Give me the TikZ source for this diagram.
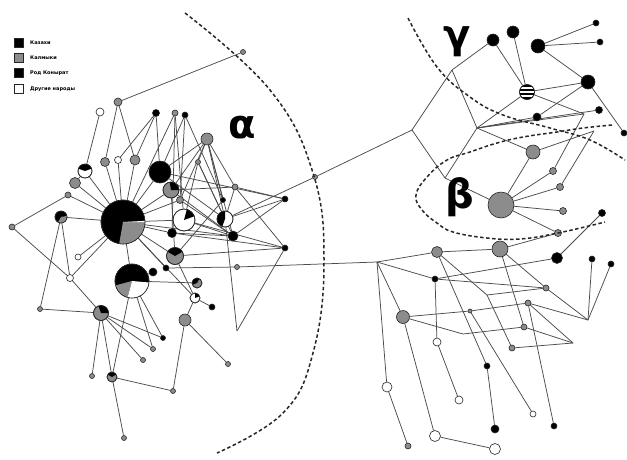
\documentclass[tikz,border=0pt]{standalone}
\usepackage{fontspec}
\setmainfont{DejaVu Sans}
\usetikzlibrary{backgrounds}

\tikzset{
  hap/.style={circle, draw=black!85, line width=0.6pt, inner sep=0pt},
  kaz/.style={hap, fill=black},
  kal/.style={hap, fill=black!45},
  oth/.style={hap, fill=white},
  link/.style={draw=black!70, line width=0.75pt},
  cladeline/.style={draw=black!85, line width=1.5pt, dash pattern=on 3.5pt off 2.5pt},
  greek/.style={font=\fontsize{40}{40}\selectfont\bfseries},
  keybox/.style={rectangle, draw=black!85, line width=0.6pt, minimum size=9pt, inner sep=0pt},
  keytext/.style={anchor=west, inner sep=0pt, font=\fontsize{5}{6}\selectfont\bfseries},
}

% pie pieces of a haplotype circle
\newcommand{\hapslice}[5]{\fill[#5] (#1.center) -- ++(#3:#2) arc[start angle=#3, end angle=#4, radius=#2] -- cycle;}
\newcommand{\hapring}[2]{\draw[black!85, line width=0.6pt] (#1.center) circle[radius=#2];}

\begin{document}
\begin{tikzpicture}[x=1pt, y=-1pt]
\useasboundingbox (0,0) rectangle (627,459);

% legend
\node[keybox, fill=black] (k1) at (19,43) {};
\node[keybox, fill=black!45] (k2) at (19,58) {};
\node[keybox, fill=black] (k3) at (19,73) {};
\node[keybox, fill=white] (k4) at (19,89) {};
\node[keytext] (t1) at (30,43) {Казахи};
\node[keytext] (t2) at (30,58) {Калмыки};
\node[keytext] (t3) at (30,73) {Род Конырат};
\node[keytext] (t4) at (30,89) {Другие народы};

% alpha cluster
\node[kaz, minimum size=44pt] (a0) at (123,222) {};
\node[kaz, minimum size=34pt] (a1) at (132,281) {};
\node[kaz, minimum size=8pt] (a2) at (153,272) {};
\node[oth, minimum size=14pt] (a3) at (85,171) {};
\node[kal, minimum size=11pt] (a4) at (75,183) {};
\node[kaz, minimum size=12pt] (a5) at (61,217) {};
\node[kaz, minimum size=22pt] (a6) at (160,172) {};
\node[kal, minimum size=16pt] (a7) at (171,190) {};
\node[oth, minimum size=22pt] (a8) at (184,220) {};
\node[oth, minimum size=16pt] (a9) at (225,219) {};
\node[kal, minimum size=17pt] (a10) at (175,256) {};
\node[kaz, minimum size=10pt] (a11) at (233,236) {};
\node[kaz, minimum size=9pt] (a12) at (172,233) {};
\node[kal, minimum size=15pt] (a13) at (101,313) {};
\node[kal, minimum size=10pt] (a14) at (112,377) {};
\node[kal, minimum size=10pt] (a15) at (197,283) {};
\node[oth, minimum size=10pt] (a16) at (195,298) {};
\node[kal, minimum size=12pt] (a17) at (185,320) {};
\node[kal, minimum size=12pt] (a18) at (207,139) {};
\node[kal, minimum size=8pt] (a19) at (118,102) {};
\node[oth, minimum size=8pt] (a20) at (100,112) {};
\node[kaz, minimum size=7pt] (a21) at (156,113) {};
\node[kal, minimum size=6pt] (a22) at (175,113) {};
\node[kaz, minimum size=6pt] (a23) at (185,115) {};
\node[kal, minimum size=9pt] (a24) at (105,162) {};
\node[oth, minimum size=7pt] (a25) at (118,160) {};
\node[kal, minimum size=10pt] (a26) at (135,160) {};
\node[kal, minimum size=6pt] (a27) at (68,195) {};
\node[kal, minimum size=6pt] (a28) at (12,227) {};
\node[oth, minimum size=6pt] (a29) at (78,257) {};
\node[oth, minimum size=7pt] (a30) at (70,278) {};
\node[kal, minimum size=7pt] (a31) at (180,200) {};
\node[kal, minimum size=5pt] (a32) at (198,162) {};
\node[kal, minimum size=6pt] (a33) at (235,187) {};
\node[kaz, minimum size=5pt] (a34) at (223,200) {};
\node[kaz, minimum size=6pt] (a35) at (285,199) {};
\node[kaz, minimum size=6pt] (a36) at (285,248) {};
\node[kaz, minimum size=6pt] (a37) at (166,268) {};
\node[kaz, minimum size=6pt] (a38) at (212,307) {};
\node[kaz, minimum size=5pt] (a39) at (163,338) {};
\node[kal, minimum size=5pt] (a40) at (153,349) {};
\node[kal, minimum size=5pt] (a41) at (143,360) {};
\node[kal, minimum size=5pt] (a42) at (228,364) {};
\node[kal, minimum size=5pt] (a43) at (92,376) {};
\node[kal, minimum size=5pt] (a44) at (173,391) {};
\node[kal, minimum size=5pt] (a45) at (124,438) {};
\node[kal, minimum size=5pt] (a46) at (40,309) {};
\node[kal, minimum size=5pt] (a47) at (243,52) {};
\node[kal, minimum size=5pt] (a48) at (315,177) {};
\node[kal, minimum size=5pt] (a49) at (237,267) {};
\coordinate (a50) at (237,331);

% mixed circles
\hapslice{a0}{22pt}{-100}{0}{black!45}
\hapslice{a0}{22pt}{0}{3}{white}
\hapring{a0}{22pt}
\hapslice{a1}{17pt}{195}{255}{black!45}
\hapslice{a1}{17pt}{255}{355}{white}
\hapring{a1}{17pt}
\hapslice{a3}{7pt}{20}{160}{black}
\hapring{a3}{7pt}
\hapslice{a5}{6pt}{-120}{10}{black!45}
\hapring{a5}{6pt}
\hapslice{a7}{8pt}{0}{100}{black}
\hapring{a7}{8pt}
\hapslice{a8}{11pt}{20}{75}{black}
\hapring{a8}{11pt}
\hapslice{a9}{8pt}{90}{250}{black}
\hapring{a9}{8pt}
\hapslice{a10}{8.5pt}{30}{150}{black}
\hapring{a10}{8.5pt}
\hapslice{a13}{7.5pt}{0}{110}{black}
\hapring{a13}{7.5pt}
\hapslice{a14}{5pt}{30}{150}{black}
\hapring{a14}{5pt}
\hapslice{a15}{5pt}{60}{200}{black}
\hapring{a15}{5pt}
\hapslice{a16}{5pt}{20}{90}{black}
\hapring{a16}{5pt}

% gamma and beta clusters
\coordinate (g1) at (412,130);
\coordinate (g2) at (452,70);
\coordinate (g3) at (477,128);
\coordinate (g4) at (445,178);
\node[kaz, minimum size=12pt] (g5) at (493,40) {};
\node[kaz, minimum size=12pt] (g6) at (513,32) {};
\node[kaz, minimum size=14pt] (g7) at (538,46) {};
\node[kaz, minimum size=6pt] (g8) at (596,23) {};
\node[kaz, minimum size=6pt] (g9) at (600,42) {};
\node[kaz, minimum size=14pt] (g10) at (588,82) {};
\node[oth, minimum size=15pt] (g11) at (527,92) {};
\node[kaz, minimum size=7pt] (g12) at (599,110) {};
\node[kaz, minimum size=8pt] (g13) at (537,117) {};
\node[kaz, minimum size=6pt] (g14) at (624,133) {};
\coordinate (g15) at (584,114);
\coordinate (g16) at (594,131);
\begin{scope}
  \clip (g11.center) circle[radius=7.5pt];
  \draw[line width=1.6pt] ([yshift=-6pt]g11.west) -- ([yshift=-6pt]g11.east)
    ([yshift=-2pt]g11.west) -- ([yshift=-2pt]g11.east)
    ([yshift=2pt]g11.west) -- ([yshift=2pt]g11.east)
    ([yshift=6pt]g11.west) -- ([yshift=6pt]g11.east);
\end{scope}
\hapring{g11}{7.5pt}

\node[kal, minimum size=26pt] (b0) at (501,205) {};
\node[kal, minimum size=14pt] (b1) at (533,152) {};
\node[kal, minimum size=7pt] (b2) at (553,171) {};
\node[kal, minimum size=7pt] (b3) at (560,187) {};
\node[kal, minimum size=7pt] (b4) at (563,211) {};
\node[kal, minimum size=7pt] (b5) at (558,233) {};
\node[kaz, minimum size=7pt] (b6) at (602,213) {};

% lower right mesh
\coordinate (m0) at (377,262);
\node[kal, minimum size=11pt] (m1) at (437,252) {};
\node[kal, minimum size=16pt] (m2) at (500,249) {};
\node[kaz, minimum size=11pt] (m3) at (557,258) {};
\node[kaz, minimum size=6pt] (m4) at (592,259) {};
\node[kaz, minimum size=6pt] (m5) at (611,264) {};
\node[kaz, minimum size=6pt] (m6) at (435,279) {};
\node[kal, minimum size=6pt] (m7) at (546,288) {};
\node[kal, minimum size=6pt] (m8) at (528,303) {};
\node[kal, minimum size=4pt] (m9) at (470,311) {};
\node[kal, minimum size=13pt] (m10) at (403,317) {};
\node[kal, minimum size=6pt] (m11) at (524,327) {};
\node[kal, minimum size=6pt] (m12) at (512,348) {};
\coordinate (m13) at (588,320);
\coordinate (m14) at (573,343);
\coordinate (m15) at (463,334);
\coordinate (m16) at (487,295);
\node[oth, minimum size=8pt] (m17) at (437,342) {};
\node[kaz, minimum size=6pt] (m18) at (487,366) {};
\node[oth, minimum size=10pt] (m19) at (387,387) {};
\node[oth, minimum size=8pt] (m20) at (459,400) {};
\node[oth, minimum size=6pt] (m21) at (533,414) {};
\node[kaz, minimum size=6pt] (m22) at (554,426) {};
\node[kaz, minimum size=8pt] (m23) at (495,429) {};
\node[oth, minimum size=11pt] (m24) at (435,436) {};
\node[oth, minimum size=11pt] (m25) at (495,449) {};
\node[kal, minimum size=6pt] (m26) at (408,446) {};

% edges
\begin{scope}[on background layer]
\fill[white] (0,0) rectangle (627,459);
\draw[link] (a0) edge (a24) edge (a25) edge (a26) edge (a3) edge (a4) edge (a27)
  edge (a5) edge (a29) edge (a30) edge (a1) edge (a37) edge (a10) edge (a12)
  edge (a8) edge (a31) edge (a7) edge (a6) edge (a22) edge (a11) edge (a16);
\draw[link] (a19) edge (a24) edge (a26) edge (a47);
\draw[link] (a20) edge (a3);
\draw[link] (a21) edge (a25) edge (a6) edge (a26);
\draw[link] (a22) edge (a12) edge (a8);
\draw[link] (a23) edge (a6) edge (a34) edge (a31);
\draw[link] (a18) edge (a6) edge (a7) edge (a32) edge (a9) edge (a34) edge (a33) edge (a11) edge (a31);
\draw[link] (a32) edge (a8) edge (a9) edge (a11);
\draw[link] (a7) edge (a33) edge (a10) edge (a11);
\draw[link] (a33) edge (a36) edge (a9) edge (a35);
\draw[link] (a9) edge (a35) edge (a48) edge (a50);
\draw[link] (a48) edge (g1);
\draw[link] (a11) edge (a35) edge (a12) edge (a31);
\draw[link] (a8) edge (a11) edge (a36);
\draw[link] (a10) edge (a36) edge (a34);
\draw[link] (a12) edge (a36);
\draw[link] (a6) edge (a9) edge (a35);
\draw[link] (a37) edge (a49);
\draw[link] (a49) edge (m0);
\draw[link] (a50) edge (a36);
\draw[link] (a1) edge (a15) edge (a39) edge (a14) edge (a40) edge (a2);
\draw[link] (a16) edge (a38) edge (a10);
\draw[link] (a17) edge (a42) edge (a44) edge (a16);
\draw[link] (a13) edge (a46) edge (a43) edge (a14) edge (a41) edge (a40) edge (a39) edge (a30);
\draw[link] (a14) edge (a45) edge (a44);
\draw[link] (a28) edge (a27) edge (a30);
\draw[link] (a5) edge (a46) edge (a30);
\draw[link] (a3) edge (a4);
% gamma and beta
\draw[link] (g1) edge (g2) edge (g4);
\draw[link] (g2) edge (g5) edge (g3);
\draw[link] (g3) edge (g4) edge (g11) edge (g13) edge (b1) edge (g15) edge (g12);
\draw[link] (g4) edge (b0);
\draw[link] (g11) edge (g5) edge (g6) edge (g10) edge (g15);
\draw[link] (g7) edge (g8) edge (g9) edge (g10);
\draw[link] (g10) edge (g14) edge (g13);
\draw[link] (b0) edge (b1) edge (b2) edge (b3) edge (b4) edge (b5);
\draw[link] (b2) edge (g15);
\draw[link] (b3) edge (g16);
\draw[link] (b1) edge (g16);
\draw[link] (b6) edge (m3);
\draw[link] (b5) edge (m2);
% mesh
\draw[link] (m0) edge (m1) edge (m6) edge (m19) edge (m10);
\draw[link] (m1) edge (m2) edge (m18) edge (m16);
\draw[link] (m2) edge (m7) edge (m11);
\draw[link] (m6) edge (m3) edge (m7) edge (m17);
\draw[link] (m10) edge (m9) edge (m15) edge (m24);
\draw[link] (m9) edge (m8) edge (m21);
\draw[link] (m8) edge (m13) edge (m14) edge (m22);
\draw[link] (m13) edge (m4) edge (m5);
\draw[link] (m15) edge (m11);
\draw[link] (m11) edge (m14);
\draw[link] (m12) edge (m14);
\draw[link] (m16) edge (m7) edge (m12);
\draw[link] (m7) edge (m13);
\draw[link] (m17) edge (m20);
\draw[link] (m18) edge (m23);
\draw[link] (m19) edge (m26);
\draw[link] (m24) edge (m25);
\end{scope}

% clade borders
\draw[cladeline] plot[smooth, tension=0.7] coordinates {(185,13) (270,90) (313,173) (324,262) (313,353) (283,413) (217,453)};
\draw[cladeline] plot[smooth, tension=0.7] coordinates {(408,18) (437,67) (470,97) (503,115) (550,128) (590,140) (625,160)};
\draw[cladeline] plot[smooth, tension=0.7] coordinates {(612,125) (583,128) (557,132) (523,137) (497,143) (470,152) (447,160) (427,177) (416,195) (422,210) (437,223) (453,232) (487,238) (520,239) (558,233) (605,222)};

% clade names
\node[greek] (alpha) at (242,128) {α};
\node[greek] (gamma) at (457,42) {γ};
\node[greek] (beta) at (460,197) {β};
\end{tikzpicture}
\end{document}
